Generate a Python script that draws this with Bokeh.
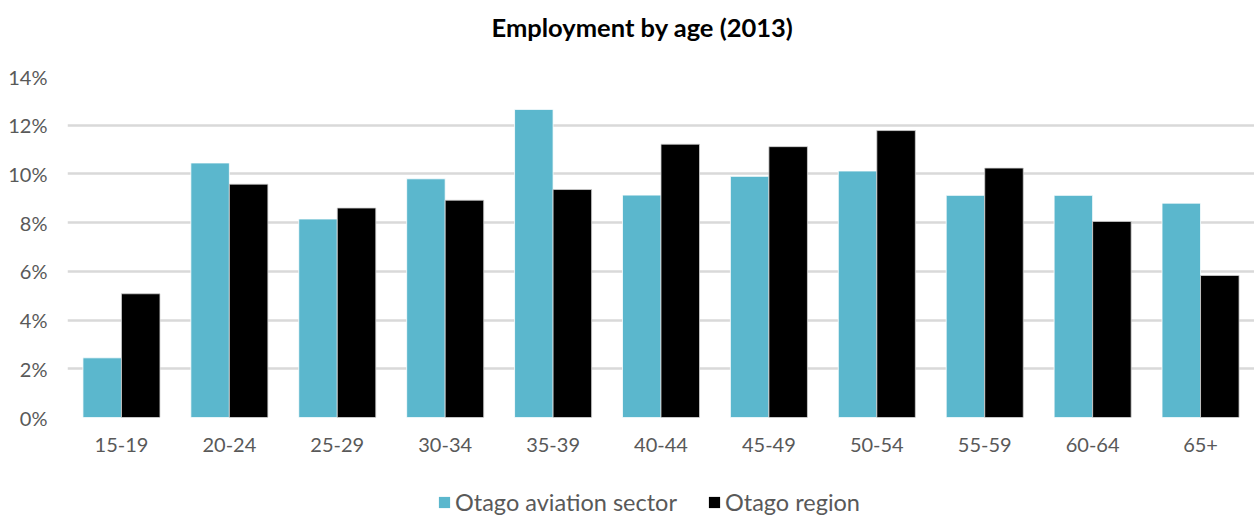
from bokeh.plotting import figure
from bokeh.layouts import column
from bokeh.models import ColumnDataSource, FactorRange, Range1d, FixedTicker, PrintfTickFormatter, Legend, LegendItem, Label
from bokeh.transform import dodge
from bokeh.embed import file_html
from bokeh.resources import INLINE

ages = ["15-19", "20-24", "25-29", "30-34", "35-39", "40-44", "45-49", "50-54", "55-59", "60-64", "65+"]
aviation = [2.45, 10.45, 8.15, 9.8, 12.65, 9.13, 9.9, 10.12, 9.12, 9.12, 8.8]
region = [5.08, 9.58, 8.6, 8.92, 9.36, 11.22, 11.12, 11.78, 10.24, 8.05, 5.83]
yticks = [0, 2, 4, 6, 8, 10, 12, 14]
series_names = ["Otago aviation sector", "Otago region"]
colors = ["#5BB7CD", "#000000"]
title_text = "Employment by age (2013)"

FONT = "Lato"

def blank(fig):
    fig.axis.visible = False
    fig.grid.visible = False
    fig.outline_line_color = None

# title strip (frame aligned with the chart frame: screen x 67..1254)
pt = figure(width=1254, height=56, x_range=Range1d(67, 1254), y_range=Range1d(0, 56),
            output_backend="svg", toolbar_location=None, min_border=0)
blank(pt)
pt.add_layout(Label(x=642, y=30, text=title_text, text_align="center", text_baseline="middle",
                    text_font=FONT, text_font_size="25.5px", text_font_style="bold", text_color="#000000"))

# main chart
src = ColumnDataSource(dict(age=ages, aviation=aviation, region=region))
p = figure(frame_width=1187, frame_height=341, x_range=FactorRange(*ages, range_padding=0),
           y_range=Range1d(0, 14), output_backend="svg", toolbar_location=None,
           min_border_left=67, min_border_right=0, min_border_top=20, min_border_bottom=59)
p.outline_line_color = None

bw = 0.357
p.vbar(x=dodge("age", -bw / 2, range=p.x_range), top="aviation", width=bw, source=src,
       fill_color=colors[0], line_color="white", line_width=0.8)
p.vbar(x=dodge("age", bw / 2, range=p.x_range), top="region", width=bw, source=src,
       fill_color=colors[1], line_color="#d0d0d0", line_width=0.8)

p.xgrid.grid_line_color = None
p.ygrid.grid_line_color = "#D9D9D9"
p.ygrid.grid_line_width = 2.5
p.yaxis.ticker = FixedTicker(ticks=yticks)
p.yaxis.formatter = PrintfTickFormatter(format="%d%%")
for ax in (p.xaxis[0], p.yaxis[0]):
    ax.axis_line_color = None
    ax.major_tick_line_color = None
    ax.minor_tick_line_color = None
    ax.major_label_text_font = FONT
    ax.major_label_text_font_size = "20px"
    ax.major_label_text_color = "#595959"
p.yaxis.major_label_standoff = 14
p.xaxis.major_label_standoff = 14

# legend strip (swatch renderers sit outside the strip's visible range)
pl = figure(width=1254, height=40, x_range=Range1d(0, 1), y_range=Range1d(0, 1),
            output_backend="svg", toolbar_location=None, min_border=0)
blank(pl)
items = []
for name, col in zip(series_names, colors):
    r = pl.quad(left=[5], right=[6], top=[6], bottom=[5], fill_color=col, line_color=None)
    items.append(LegendItem(label=name, renderers=[r]))
legend = Legend(items=items, orientation="horizontal", location=(370, 0),
                label_text_font=FONT, label_text_font_size="23.5px", label_text_color="#595959",
                glyph_width=14, glyph_height=14, spacing=30, label_standoff=4,
                border_line_color=None, background_fill_alpha=0, padding=0, margin=0)
pl.add_layout(legend, "center")

layout = column(pt, p, pl, spacing=0)
open("out.html", "w").write(file_html(layout, INLINE))
